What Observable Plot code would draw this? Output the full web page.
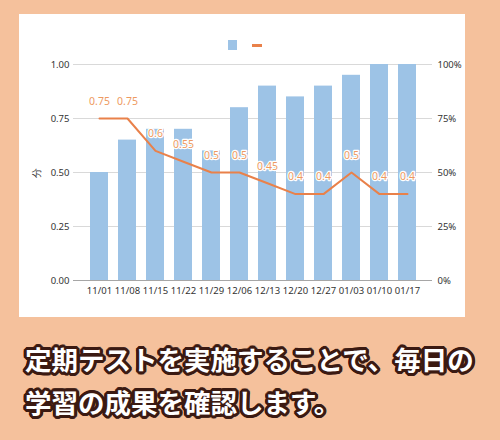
<!DOCTYPE html>
<html><head><meta charset="utf-8">
<script src="https://cdn.jsdelivr.net/npm/d3@7"></script>
<script src="https://cdn.jsdelivr.net/npm/@observablehq/plot@0.6"></script>
<style>
html,body{margin:0;padding:0;}
body{width:500px;height:440px;background:#F5C19C;position:relative;overflow:hidden;font-family:"Noto Sans",sans-serif;}
#panel{position:absolute;left:19px;top:14px;width:446px;height:303px;background:#fff;}
#legend{position:absolute;left:0;top:26px;width:446px;height:10px;}
#legend .sq{position:absolute;left:209px;top:0;width:9px;height:10px;background:#9DC3E6;}
#legend .ln{position:absolute;left:233px;top:4px;width:10px;height:2.5px;background:#E9814A;}
#chart{position:absolute;left:0;top:0;}
.cap{position:absolute;left:25px;font-family:"Noto Sans CJK JP",sans-serif;font-weight:700;font-size:26.5px;color:#fff;white-space:nowrap;letter-spacing:0px;
text-shadow:
 2px 0 0 #3b1a12,-2px 0 0 #3b1a12,0 2px 0 #3b1a12,0 -2px 0 #3b1a12,
 2px 2px 0 #3b1a12,-2px -2px 0 #3b1a12,2px -2px 0 #3b1a12,-2px 2px 0 #3b1a12,
 3px 0 0 #3b1a12,-3px 0 0 #3b1a12,0 3px 0 #3b1a12,0 -3px 0 #3b1a12,
 3px 1px 0 #3b1a12,-3px -1px 0 #3b1a12,1px 3px 0 #3b1a12,-1px -3px 0 #3b1a12,
 3px -1px 0 #3b1a12,-3px 1px 0 #3b1a12,1px -3px 0 #3b1a12,-1px 3px 0 #3b1a12;}
</style></head>
<body>
<div id="panel"><div id="chart"></div><div id="legend"><div class="sq"></div><div class="ln"></div></div></div>
<div class="cap" style="top:339px;">定期テストを実施することで、毎日の</div>
<div class="cap" style="top:382px;">学習の成果を確認します。</div>
<script>
const dates = ["11/01","11/08","11/15","11/22","11/29","12/06","12/13","12/20","12/27","01/03","01/10","01/17"];
const scores = [0.5,0.65,0.7,0.7,0.6,0.8,0.9,0.85,0.9,0.95,1.0,1.0];
const rates = [0.75,0.75,0.6,0.55,0.5,0.5,0.45,0.4,0.4,0.5,0.4,0.4];
const yTicks = [0,0.25,0.5,0.75,1];
const yTickLabels = ["0.00","0.25","0.50","0.75","1.00"];
const rightTickLabels = ["0%","25%","50%","75%","100%"];

const data = dates.map((d,i)=>({date:d, score:scores[i], rate:rates[i]}));

const chart = Plot.plot({
  width:446, height:303,
  marginLeft:59, marginRight:38, marginTop:50, marginBottom:37,
  style:{fontFamily:"'Noto Sans',sans-serif", fontSize:"9.5px", color:"#333", background:"transparent"},
  x:{type:"band", domain:dates, padding:0.36},
  y:{domain:[0,1]},
  marks:[
    Plot.ruleY(yTicks.slice(1), {stroke:"#d9d9d9", insetLeft:-5, insetRight:-5}),
    Plot.barY(data, {x:"date", y:"score", fill:"#9DC3E6"}),
    Plot.ruleY([0], {stroke:"#a6a6a6", strokeWidth:1.2, insetLeft:-5, insetRight:-5}),
    Plot.line(data, {x:"date", y:"rate", stroke:"#E9814A", strokeWidth:2}),
    Plot.text(data, {x:"date", y:"rate", text:d=>String(d.rate), dy:-17, fill:"#EE9A62", stroke:"#fff", strokeWidth:2.5, fontSize:10.5}),
    Plot.axisY(yTicks, {anchor:"left", tickSize:0, tickPadding:9, tickFormat:d=>yTickLabels[yTicks.indexOf(d)], label:"分", labelAnchor:"center", labelArrow:"none", labelOffset:45, fontSize:9.5}),
    Plot.axisY(yTicks, {anchor:"right", tickSize:0, tickPadding:10, tickFormat:d=>rightTickLabels[yTicks.indexOf(d)], label:null, fontSize:9.5}),
    Plot.axisX({tickSize:0, tickPadding:7, label:null, fontSize:9.5})
  ]
});
document.getElementById("chart").appendChild(chart);
</script>
</body></html>
